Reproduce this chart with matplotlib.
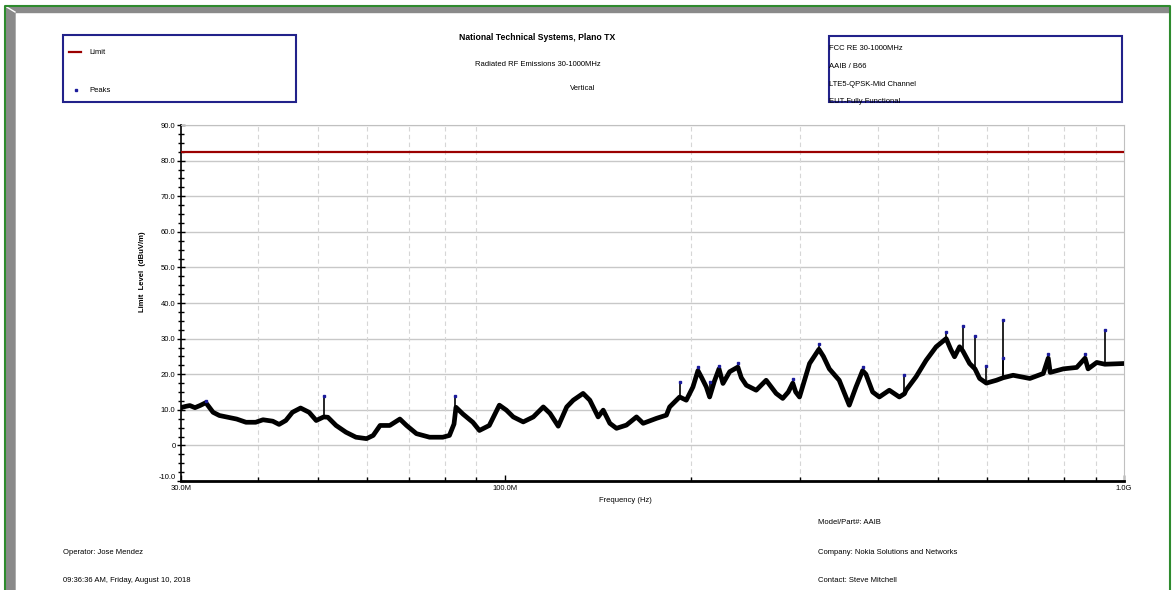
import matplotlib.pyplot as plt
from matplotlib.patches import Rectangle, Polygon
from matplotlib.lines import Line2D
import numpy as np

plt.rcParams['font.family'] = ['Liberation Sans', 'DejaVu Sans']

# trace (MHz, dBuV/m)
freq_mhz = [30.0, 30.1, 30.6, 31.0, 31.6, 32.2, 32.9, 33.3, 33.8, 34.6, 35.5, 36.9,
            38.2, 39.6, 40.7, 42.2, 43.2, 44.3, 45.4, 46.8, 48.3, 49.6, 51.0, 51.8,
            53.4, 55.4, 57.5, 59.8, 61.3, 62.9, 65.2, 67.7, 69.4, 72.0, 75.6, 79.4,
            81.4, 82.8, 83.4, 85.6, 88.8, 91.0, 94.4, 96.7, 98.0, 100.6, 103.2,
            107.1, 111.2, 115.4, 118.3, 122.0, 125.9, 129.0, 133.8, 137.2, 141.5,
            144.2, 147.8, 151.5, 157.2, 163.2, 167.3, 175.8, 182.4, 184.6, 191.6,
            196.4, 201.3, 205.1, 208.0, 211.6, 214.2, 218.0, 221.8, 225.1, 230.8,
            237.9, 241.0, 245.5, 254.7, 264.3, 274.3, 281.1, 287.0, 291.8, 295.0,
            299.2, 310.6, 321.6, 327.0, 334.3, 346.8, 360.0, 369.1, 378.3, 383.0,
            392.7, 402.6, 417.8, 433.7, 442.0, 444.6, 461.6, 479.1, 497.3, 516.2,
            525.0, 532.5, 542.6, 549.3, 563.2, 574.5, 584.6, 599.4, 622.2, 637.9,
            662.1, 704.6, 740.7, 754.5, 760.0, 798.0, 838.7, 865.2, 875.0, 903.7,
            931.4, 961.9, 1000.0]
level_dbuv = [10.5, 10.7, 11.0, 11.2, 10.6, 11.2, 12.0, 10.8, 9.3, 8.4, 8.0, 7.4,
              6.5, 6.5, 7.2, 6.8, 5.9, 7.0, 9.3, 10.5, 9.3, 7.0, 8.0, 7.9,
              5.6, 3.7, 2.3, 1.9, 2.8, 5.6, 5.6, 7.4, 5.6, 3.3, 2.3, 2.3,
              2.8, 6.0, 10.7, 8.8, 6.5, 4.2, 5.6, 9.3, 11.3, 9.9, 8.0,
              6.6, 8.0, 10.8, 9.0, 5.4, 10.8, 12.7, 14.6, 12.7, 8.0,
              9.9, 6.2, 4.8, 5.7, 8.0, 6.2, 7.6, 8.5, 10.8, 13.6,
              12.7, 16.4, 21.0, 19.0, 16.4, 13.6, 18.0, 21.5, 17.4, 20.7,
              22.0, 19.0, 16.9, 15.5, 18.3, 14.6, 13.2, 15.0, 17.5, 15.0,
              13.6, 23.0, 27.0, 25.0, 21.5, 18.3, 11.3, 16.4, 21.0, 20.0,
              15.0, 13.6, 15.5, 13.6, 14.5, 15.5, 19.3, 23.9, 27.7, 30.0,
              27.0, 24.9, 27.7, 26.5, 23.0, 21.5, 18.8, 17.5, 18.3, 19.0,
              19.7, 18.8, 20.2, 24.5, 20.5, 21.5, 21.9, 24.5, 21.5, 23.3,
              22.8, 22.9, 23.0]

peak_freq = [32.9, 51.0, 83.0, 191.6, 205.1, 214.2, 221.8, 237.9, 291.8, 321.6,
             378.3, 442.0, 516.2, 549.3, 574.5, 599.4, 637.9, 637.9, 754.5, 865.2,
             931.4]
peak_level = [12.6, 14.0, 14.0, 17.9, 22.1, 17.9, 22.3, 23.2, 18.6, 28.4,
              22.1, 19.7, 31.8, 33.6, 30.7, 22.2, 35.1, 24.6, 25.8, 25.6,
              32.4]

limit_level = 82.3
y_ticks = [-10, 0, 10, 20, 30, 40, 50, 60, 70, 80, 90]
y_tick_labels = ['-10.0', '0', '10.0', '20.0', '30.0', '40.0', '50.0', '60.0', '70.0', '80.0', '90.0']
x_ticks = [30, 100, 1000]
x_tick_labels = ['30.0M', '100.0M', '1.0G']
x_grid = [40, 50, 60, 70, 80, 90, 200, 300, 400, 500, 600, 700, 800, 900]

W, H = 1172, 590
FS = 5.5


def fx(x):
    return x / W


def fy(y):
    return 1 - y / H


fig = plt.figure(figsize=(W / 100, H / 100), dpi=100)
fig.patch.set_facecolor('white')

ax = fig.add_axes([fx(181), fy(481), fx(1124 - 181), (481 - 125) / H])
ax.set_xscale('log')
ax.set_xlim(30, 1000)
ax.set_ylim(-10, 90)

# grid
for v in y_ticks[1:]:
    ax.axhline(v, color='#c8c8c8', lw=1, zorder=1)
for f in x_grid:
    ax.axvline(f, color='#d6d6d6', lw=0.8, ls=(0, (4, 3)), zorder=1)

ax.axhline(limit_level, color='#9b0000', lw=1.6, zorder=3)

ax.plot(freq_mhz, level_dbuv, color='black', lw=3.4, zorder=4, solid_joinstyle='round')
base = np.interp(np.log10(peak_freq), np.log10(freq_mhz), level_dbuv)
ax.vlines(peak_freq, base, peak_level, color='black', lw=1.2, zorder=4)
ax.plot(peak_freq, peak_level, ls='none', marker='s', ms=1.6, color='#1c1c9c', zorder=5)

ax.set_yticks(y_ticks)
ax.set_yticklabels(y_tick_labels)
ax.set_yticks(np.arange(-10, 90.1, 2.5), minor=True)
ax.set_xticks(x_ticks)
ax.set_xticklabels(x_tick_labels)
ax.set_xticks(x_grid, minor=True)
ax.xaxis.set_minor_formatter(plt.NullFormatter())
ax.tick_params(axis='y', which='major', direction='inout', length=6, width=1, labelsize=FS, pad=1)
ax.tick_params(axis='y', which='minor', direction='inout', length=4, width=1)
ax.tick_params(axis='x', which='major', direction='in', length=4, width=1, labelsize=FS, pad=3)
ax.tick_params(axis='x', which='minor', direction='in', length=3, width=1)
ax.get_yticklabels()[0].set_va('bottom')

for s in ['top', 'right']:
    ax.spines[s].set_color('#c0c0c0')
ax.spines['left'].set_linewidth(1.2)
ax.spines['bottom'].set_linewidth(2)

fig.text(fx(625), fy(500), 'Frequency (Hz)', fontsize=FS, ha='center', va='center')
fig.text(fx(143), fy(272), 'Limit  Level  (dBuV/m)', rotation=90,
         ha='center', va='center', fontsize=FS, fontweight='bold')

# frame
fig.add_artist(Polygon([(fx(5), fy(6)), (fx(1169), fy(6)), (fx(1169), fy(12)), (fx(15), fy(12))],
                       closed=True, color='#8a8a8a', transform=fig.transFigure))
fig.add_artist(Polygon([(fx(5), fy(6)), (fx(15), fy(12)), (fx(15), fy(590)), (fx(5), fy(590))],
                       closed=True, color='#8a8a8a', transform=fig.transFigure))
fig.add_artist(Line2D([fx(5), fx(15)], [fy(6), fy(12)], color='white', lw=1, transform=fig.transFigure))
fig.add_artist(Line2D([fx(4.5), fx(4.5), fx(1169.5), fx(1169.5)], [fy(590), fy(5.5), fy(5.5), fy(590)],
                      color='#2e8b2e', lw=1.5, transform=fig.transFigure))

# legend box
fig.add_artist(Rectangle((fx(63), fy(102)), fx(296 - 63), (102 - 35) / H, fill=False,
                         ec='#22228a', lw=1.5, transform=fig.transFigure))
fig.add_artist(Line2D([fx(69), fx(81)], [fy(52), fy(52)], color='#9b0000', lw=1.6,
                      transform=fig.transFigure))
fig.text(fx(89), fy(52), 'Limit', fontsize=FS, va='center')
fig.add_artist(Line2D([fx(76)], [fy(90)], marker='s', ms=1.6, color='#1c1c9c',
                      transform=fig.transFigure))
fig.text(fx(89), fy(90), 'Peaks', fontsize=FS, va='center')

# header
fig.text(fx(537), fy(37), 'National Technical Systems, Plano TX',
         fontsize=6.2, fontweight='bold', ha='center', va='center')
fig.text(fx(538), fy(65), 'Radiated RF Emissions 30-1000MHz', fontsize=FS, ha='center', va='center')
fig.text(fx(583), fy(88), 'Vertical', fontsize=FS, ha='center', va='center')

# info box
fig.add_artist(Rectangle((fx(829), fy(102)), fx(1122 - 829), (102 - 36) / H, fill=False,
                         ec='#22228a', lw=1.5, transform=fig.transFigure))
info_lines = ['FCC RE 30-1000MHz', 'AAIB / B66', 'LTE5-QPSK-Mid Channel', 'EUT-Fully Functional']
for i, t in enumerate(info_lines):
    fig.text(fx(829), fy(48 + 18 * i), t, fontsize=FS, va='center')

# footer
fig.text(fx(818), fy(522), 'Model/Part#: AAIB', fontsize=FS, va='center')
fig.text(fx(63), fy(552), 'Operator: Jose Mendez', fontsize=FS, va='center')
fig.text(fx(818), fy(552), 'Company: Nokia Solutions and Networks', fontsize=FS, va='center')
fig.text(fx(63), fy(581), '09:36:36 AM, Friday, August 10, 2018', fontsize=FS, va='center')
fig.text(fx(818), fy(581), 'Contact: Steve Mitchell', fontsize=FS, va='center')

fig.savefig('out.png', dpi=100)
